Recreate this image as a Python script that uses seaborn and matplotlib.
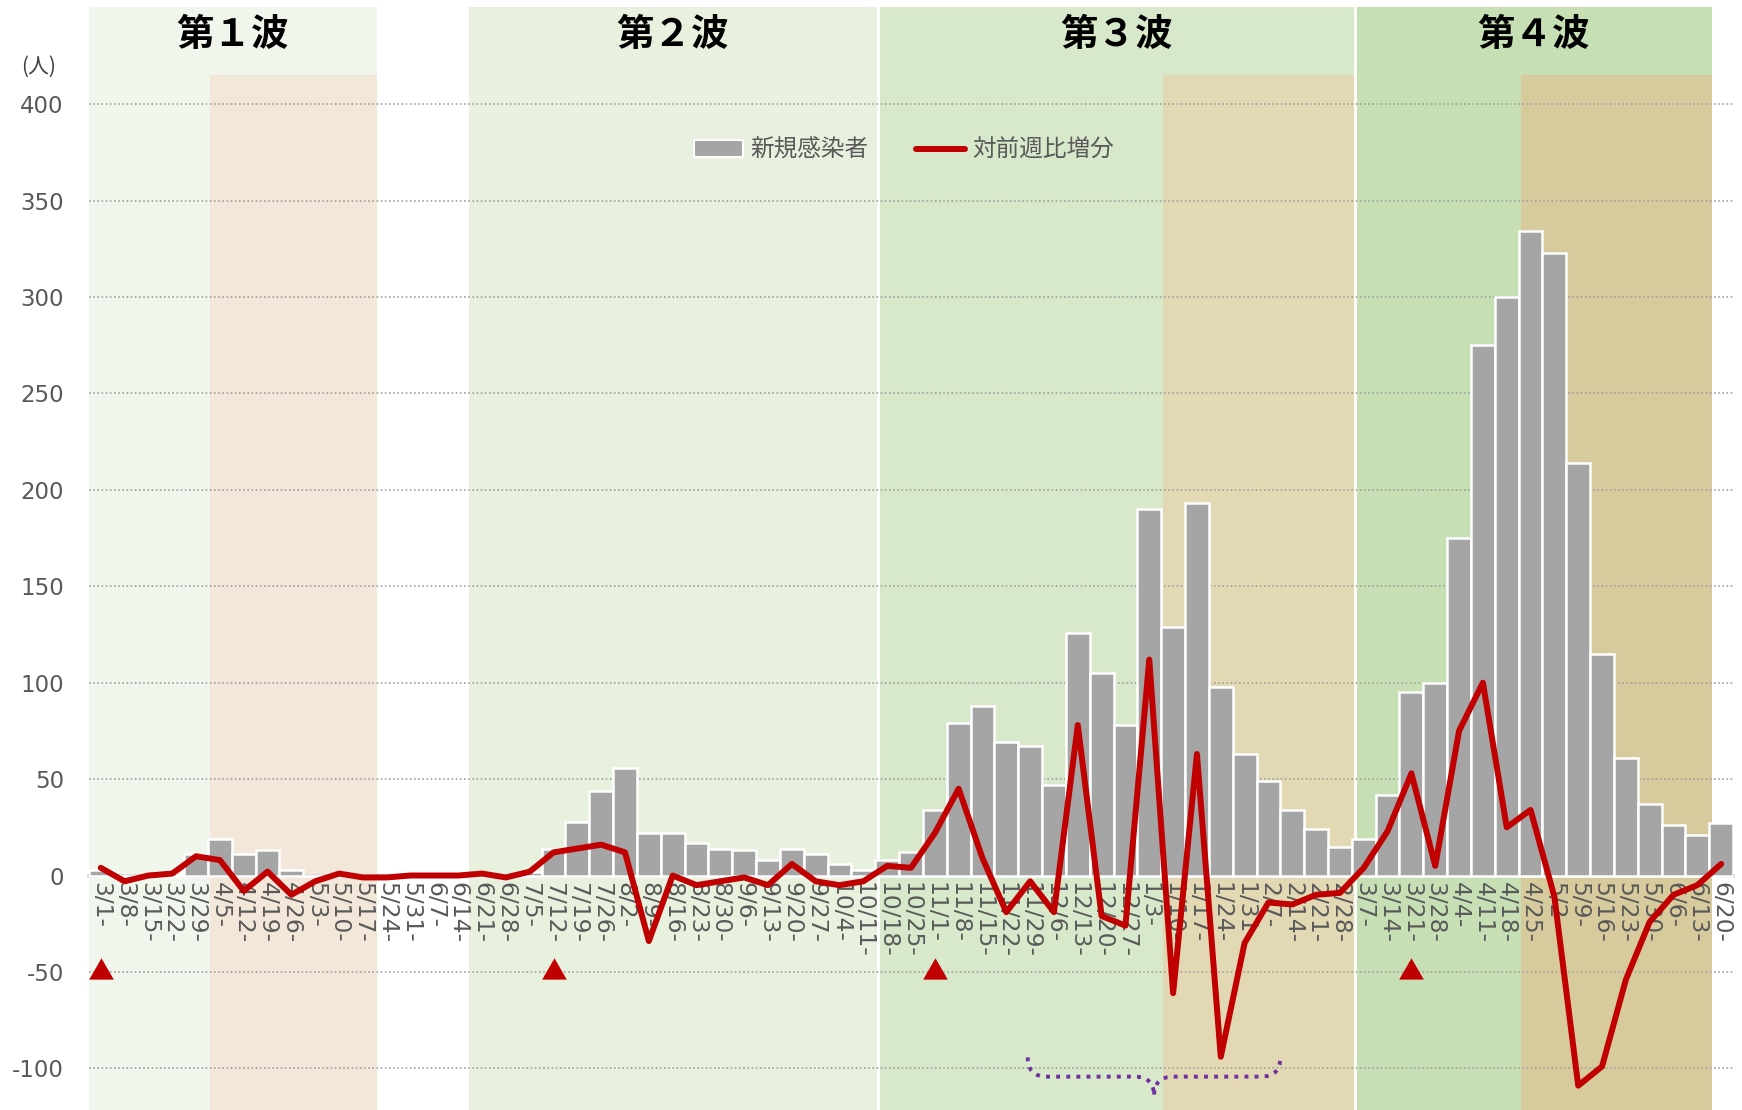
import numpy as np
import pandas as pd
import seaborn as sns
import matplotlib.pyplot as plt
from matplotlib.path import Path
from matplotlib.patches import PathPatch, Patch
from matplotlib.lines import Line2D

# weekly data (week starting dates, 2020/3/1 - 2021/6/20)
week_labels = ["3/1-", "3/8-", "3/15-", "3/22-", "3/29-", "4/5-", "4/12-", "4/19-", "4/26-",
               "5/3-", "5/10-", "5/17-", "5/24-", "5/31-", "6/7-", "6/14-", "6/21-", "6/28-",
               "7/5-", "7/12-", "7/19-", "7/26-", "8/2-", "8/9-", "8/16-", "8/23-", "8/30-",
               "9/6-", "9/13-", "9/20-", "9/27-", "10/4-", "10/11-", "10/18-", "10/25-",
               "11/1-", "11/8-", "11/15-", "11/22-", "11/29-", "12/6-", "12/13-", "12/20-",
               "12/27-", "1/3-", "1/10-", "1/17-", "1/24-", "1/31-", "2/7-", "2/14-", "2/21-",
               "2/28-", "3/7-", "3/14-", "3/21-", "3/28-", "4/4-", "4/11-", "4/18-", "4/25-",
               "5/2-", "5/9-", "5/16-", "5/23-", "5/30-", "6/6-", "6/13-", "6/20-"]

new_cases = [3, 0, 0, 1, 11, 19, 11, 13, 3, 0, 1, 0, 0, 0, 0, 0, 1, 0, 2, 14,
             28, 44, 56, 22, 22, 17, 14, 13, 8, 14, 11, 6, 3, 8, 12, 34, 79, 88, 69, 67,
             47, 126, 105, 78, 190, 129, 193, 98, 63, 49, 34, 24, 15, 19, 42, 95, 100, 175, 275, 300,
             334, 323, 214, 115, 61, 37, 26, 21, 27]

week_diff = [4, -3, 0, 1, 10, 8, -8, 2, -10, -3, 1, -1, -1, 0, 0, 0, 1, -1, 2, 12,
             14, 16, 12, -34, 0, -5, -3, -1, -5, 6, -3, -5, -3, 5, 4, 22, 45, 9, -19, -3,
             -19, 78, -21, -26, 112, -61, 63, -94, -35, -14, -15, -10, -9, 4, 23, 53, 5, 75, 100, 25,
             34, -11, -109, -99, -54, -24, -10, -5, 6]

# waves (in week positions)
wave_names = ["第１波", "第２波", "第３波", "第４波"]
wave_start = [-0.5, 15.45, 32.63, 52.63]
wave_end = [11.58, 32.57, 52.63, 67.62]
wave_colors = ["#f0f6eb", "#e7f1de", "#d7e8cb", "#c6dfb4"]

# state of emergency periods
emerg_start = [4.58, 44.58, 59.6]
emerg_end = [11.58, 52.63, 67.62]
emerg_colors = ["#f2e7d9", "#e2d8b4", "#d7ca9c"]

marker_weeks = [0, 19, 35, 55]

df = pd.DataFrame({"week": week_labels, "cases": new_cases, "diff": week_diff})

sns.set_style("white")
plt.rcParams["font.family"] = ["DejaVu Sans", "Noto Sans CJK JP"]
plt.rcParams["axes.unicode_minus"] = False
jp = ["Noto Sans CJK JP", "DejaVu Sans"]

ymin, ymax = -121.6, 450.4
fig = plt.figure(figsize=(17.42, 11.10), dpi=100)
ax = fig.add_axes([0.051, 0.0, 0.9439, 0.9937])

for x0, x1, c in zip(wave_start, wave_end, wave_colors):
    ax.axvspan(x0, x1, color=c, lw=0, zorder=0)
top_frac = (415 - ymin) / (ymax - ymin)
for x0, x1, c in zip(emerg_start, emerg_end, emerg_colors):
    ax.axvspan(x0, x1, ymin=0, ymax=top_frac, color=c, lw=0, zorder=0.1)
for xb in [32.6, 52.63]:
    ax.axvline(xb, color="white", lw=2, zorder=0.2)

sns.barplot(data=df, x="week", y="cases", color="#a5a5a5", saturation=1, width=1,
            edgecolor="white", linewidth=1.8, ax=ax, zorder=2)
sns.lineplot(x=np.arange(len(week_diff)), y=week_diff, color="#c00000", linewidth=4.3,
             ax=ax, zorder=4)
sns.scatterplot(x=marker_weeks, y=[-50] * len(marker_weeks), marker=(3, 0, 0), s=420,
                color="#c00000", linewidth=0, ax=ax, zorder=4)

# curly brace under 3rd wave
def draw_brace(ax, x0, x1, y, h, d=0.8):
    xm = (x0 + x1) / 2
    verts = [(x0, y + h), (x0, y), (x0 + d, y), (xm - d, y), (xm, y), (xm, y - h),
             (xm, y), (xm + d, y), (x1 - d, y), (x1, y), (x1, y + h)]
    codes = [Path.MOVETO, Path.CURVE3, Path.CURVE3, Path.LINETO, Path.CURVE3, Path.CURVE3,
             Path.CURVE3, Path.CURVE3, Path.LINETO, Path.CURVE3, Path.CURVE3]
    ax.add_patch(PathPatch(Path(verts, codes), fill=False, edgecolor="#7030a0", lw=2.8,
                           linestyle=(0, (1, 1.6)), zorder=3))

draw_brace(ax, 38.9, 49.5, -104.3, 10)

ax.set_xlim(-0.5, len(week_labels) - 0.5)
ax.set_ylim(ymin, ymax)
ax.set_yticks(np.arange(-100, 401, 50))
ax.set_axisbelow(True)
ax.yaxis.grid(True, color="#a0a0a0", linestyle=(0, (1, 1.5)), linewidth=1.2)
ax.xaxis.grid(False)
ax.set_xlabel("")
ax.set_ylabel("")
for s in ["left", "right", "top"]:
    ax.spines[s].set_visible(False)
ax.spines["bottom"].set_position(("data", 0))
ax.spines["bottom"].set_color("#d9d9d9")
ax.spines["bottom"].set_linewidth(2.6)
ax.spines["bottom"].set_zorder(1.5)
ax.tick_params(axis="x", length=0, pad=5, labelsize=16.8, labelcolor="#595959", labelrotation=270)
ax.tick_params(axis="y", length=0, pad=18, labelsize=16.5, labelcolor="#595959")
for t in ax.get_xticklabels():
    t.set_ha("center")
    t.set_va("top")

for name, x0, x1 in zip(wave_names, wave_start, wave_end):
    ax.text((x0 + x1) / 2, 436, name, ha="center", va="center", fontsize=27,
            fontweight="bold", family=jp, color="black")

fig.text(0.022, 0.94, "(人)", ha="center", va="center", fontsize=15, family=jp, color="#404040")

handles = [Patch(facecolor="#a5a5a5", edgecolor="white", lw=1.5),
           Line2D([], [], color="#c00000", lw=4.3)]
leg = ax.legend(handles, ["新規感染者", "対前週比増分"], loc="center",
                bbox_to_anchor=(33.7, 376), bbox_transform=ax.transData, ncol=2,
                frameon=False, prop={"family": jp, "size": 17}, handlelength=2.1,
                handleheight=0.7, handletextpad=0.3, columnspacing=2.0)
for t in leg.get_texts():
    t.set_color("#595959")

fig.savefig("out.png", dpi=100)
